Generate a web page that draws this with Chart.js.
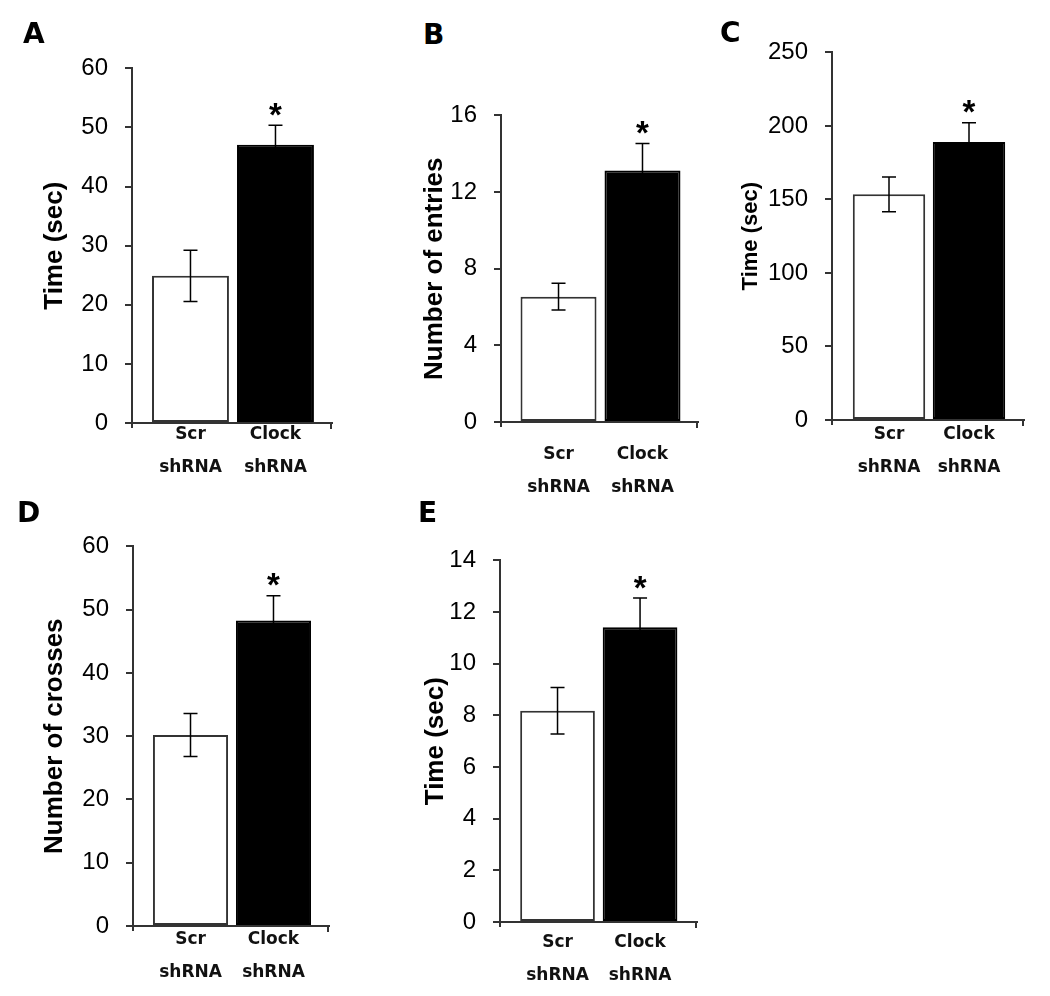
<!DOCTYPE html>
<html>
<head>
<meta charset="utf-8">
<script src="https://cdn.jsdelivr.net/npm/chart.js@4.4.0/dist/chart.umd.min.js"></script>
<style>
  html, body { margin: 0; padding: 0; background: #fff; }
  #page { position: relative; width: 1050px; height: 996px; overflow: hidden; }
  #page canvas { position: absolute; }
  .letter { position: absolute; font: bold 28px "DejaVu Sans"; line-height: 28px; color: #000; }
</style>
</head>
<body>
<div id="page"></div>
<script>
const categories = [['Scr', 'shRNA'], ['Clock', 'shRNA']];
const panelLetters = ['A', 'B', 'C', 'D', 'E'];
const yTitles = ['Time (sec)', 'Number of entries', 'Time (sec)', 'Number of crosses', 'Time (sec)'];

// mean and error (Scr, Clock)
const meansA = [24.9, 47.1], errA = [4.35, 3.3];
const meansB = [6.54, 13.13], errB = [0.7, 1.41];
const meansC = [153.5, 189], errC = [11.8, 13.2];
const meansD = [30.2, 48.3], errD = [3.4, 3.9];
const meansE = [8.18, 11.41], errE = [0.9, 1.13];
const significant = [false, true];

const yMaxes = [60, 16, 250, 60, 14];
const yStepSizes = [10, 4, 50, 10, 2];

const allMeans = [meansA, meansB, meansC, meansD, meansE];
const allErrs = [errA, errB, errC, errD, errE];

// where each panel sits on the page
const layouts = [
  { axisX: 132, top: 57,   bottom: 423, right: 332,  titleCx: 55,  titleSize: 26, labelPad: -4.75, xMin: -0.688, xMax: 1.665, letter: [23, 44] },
  { axisX: 501, top: 104,  bottom: 422, right: 698,  titleCx: 435, titleSize: 26, labelPad: 15.75, xMin: -0.685, xMax: 1.661, letter: [423, 45] },
  { axisX: 832, top: 40.5, bottom: 420, right: 1024, titleCx: 751, titleSize: 22, labelPad: -1.75, xMin: -0.7125, xMax: 1.6875, letter: [720, 43] },
  { axisX: 133, top: 535,  bottom: 926, right: 329,  titleCx: 55,  titleSize: 26, labelPad: -2.75, xMin: -0.693, xMax: 1.669, letter: [17, 523] },
  { axisX: 500, top: 549,  bottom: 922, right: 697,  titleCx: 436, titleSize: 26, labelPad: 4.25,  xMin: -0.697, xMax: 1.69, letter: [418, 523] }
];

const axisColor = '#333';

const errorBarPlugin = {
  id: 'errorBars',
  afterDatasetsDraw(chart) {
    const ctx = chart.ctx;
    const y = chart.scales.y;
    const ds = chart.data.datasets[0];
    const meta = chart.getDatasetMeta(0);
    ctx.save();
    meta.data.forEach((bar, i) => {
      const m = ds.data[i].y;
      const e = ds.errors[i];
      const yt = y.getPixelForValue(m + e);
      const yb = y.getPixelForValue(m - e);
      ctx.strokeStyle = '#000';
      ctx.lineWidth = 1.5;
      ctx.beginPath();
      ctx.moveTo(bar.x, yb); ctx.lineTo(bar.x, yt);
      ctx.moveTo(bar.x - 7, yt); ctx.lineTo(bar.x + 7, yt);
      ctx.moveTo(bar.x - 7, yb); ctx.lineTo(bar.x + 7, yb);
      ctx.stroke();
      if (ds.sig[i]) {
        ctx.font = 'bold 33px "Liberation Sans"';
        ctx.fillStyle = '#000';
        ctx.textAlign = 'center';
        ctx.textBaseline = 'alphabetic';
        const mt = ctx.measureText('*');
        const cy = yt - 16;
        const base = cy + (mt.actualBoundingBoxAscent - mt.actualBoundingBoxDescent) / 2;
        ctx.fillText('*', bar.x, base);
      }
    });
    ctx.restore();
  },
  afterDraw(chart) {
    // small end marks under the x axis
    const {ctx, chartArea} = chart;
    ctx.save();
    ctx.strokeStyle = axisColor;
    ctx.lineWidth = 2;
    ctx.beginPath();
    ctx.moveTo(chartArea.left, chartArea.bottom); ctx.lineTo(chartArea.left, chartArea.bottom + 5);
    ctx.moveTo(chartArea.right - 1, chartArea.bottom); ctx.lineTo(chartArea.right - 1, chartArea.bottom + 6);
    ctx.stroke();
    ctx.restore();
  }
};

const page = document.getElementById('page');

layouts.forEach((L, p) => {
  const left = Math.round(L.titleCx - L.titleSize * 0.6);
  const top = Math.round(L.top) - 20;
  const canvasW = Math.round(L.right - left) + 14;
  const canvasH = Math.round(L.bottom - top) + 75;
  const yWidth = L.axisX - left;
  const xHeight = canvasH - (L.bottom - top);

  const canvas = document.createElement('canvas');
  canvas.width = canvasW;
  canvas.height = canvasH;
  canvas.style.left = left + 'px';
  canvas.style.top = top + 'px';
  canvas.style.width = canvasW + 'px';
  canvas.style.height = canvasH + 'px';
  page.appendChild(canvas);

  const letter = document.createElement('div');
  letter.className = 'letter';
  letter.textContent = panelLetters[p];
  letter.style.left = L.letter[0] + 'px';
  letter.style.top = (L.letter[1] - 23.7) + 'px';
  page.appendChild(letter);

  new Chart(canvas.getContext('2d'), {
    type: 'bar',
    data: {
      datasets: [{
        data: allMeans[p].map((v, i) => ({ x: i, y: v })),
        errors: allErrs[p],
        sig: significant,
        backgroundColor: ['#ffffff', '#000000'],
        borderColor: ['#333333', '#000000'],
        borderWidth: 2,
        borderSkipped: false,
        barPercentage: 0.905,
        categoryPercentage: 1
      }]
    },
    plugins: [errorBarPlugin],
    options: {
      responsive: false,
      animation: false,
      devicePixelRatio: 1,
      layout: {
        padding: { left: 0, top: L.top - top, right: canvasW - (L.right - left), bottom: 0 }
      },
      plugins: { legend: { display: false }, tooltip: { enabled: false } },
      scales: {
        x: {
          type: 'linear',
          position: 'bottom',
          offset: false,
          min: L.xMin,
          max: L.xMax,
          z: 1,
          afterBuildTicks: (scale) => { scale.ticks = [{ value: 0 }, { value: 1 }]; },
          afterFit: (scale) => { scale.height = xHeight; },
          grid: { display: false, offset: false, drawTicks: false, tickLength: 0 },
          border: { display: true, color: axisColor, width: 2 },
          ticks: {
            callback: (v) => categories[v],
            color: '#111',
            padding: L.labelPad,
            maxRotation: 0,
            autoSkip: false,
            font: { family: '"DejaVu Sans"', weight: 'bold', size: 17, lineHeight: 1.94 }
          }
        },
        y: {
          position: 'left',
          min: 0,
          max: yMaxes[p],
          z: 1,
          afterFit: (scale) => { scale.width = yWidth; },
          grid: { drawOnChartArea: false, drawTicks: true, tickLength: 7, color: axisColor, lineWidth: 2 },
          border: { display: true, color: axisColor, width: 2 },
          ticks: {
            stepSize: yStepSizes[p],
            color: '#000',
            padding: 17,
            font: { family: '"Liberation Sans"', size: 24 }
          },
          title: {
            display: true,
            text: yTitles[p],
            color: '#000',
            padding: 0,
            font: { family: '"Liberation Sans"', weight: 'bold', size: L.titleSize, lineHeight: 1.2 }
          }
        }
      }
    }
  });
});
</script>
</body>
</html>
